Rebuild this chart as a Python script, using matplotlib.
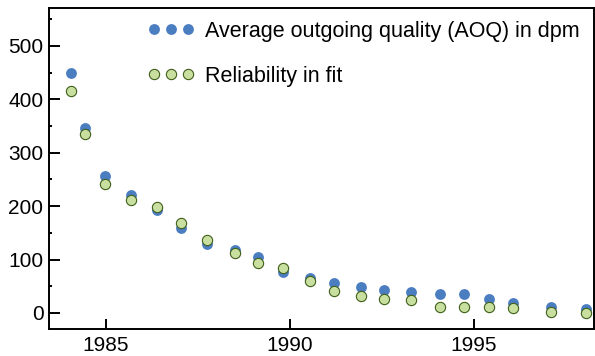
import numpy as np
import matplotlib
matplotlib.use("Agg")
import matplotlib.pyplot as plt
from matplotlib.ticker import MultipleLocator

plt.rcParams['font.family'] = ['Liberation Sans', 'DejaVu Sans']

years = [1984.05, 1984.43, 1984.98, 1985.69, 1986.38, 1987.04, 1987.75, 1988.5,
         1989.12, 1989.8, 1990.53, 1991.2, 1991.93, 1992.55, 1993.3, 1994.07,
         1994.72, 1995.41, 1996.06, 1997.1, 1998.03]
aoq = [449, 347, 256, 220, 192, 159, 130, 118, 104, 77, 65, 57, 49, 43, 39,
       35, 35, 26, 19, 11, 7]
fit = [416, 335, 242, 211, 198, 168, 136, 112, 94, 84, 59, 42, 32, 27, 24,
       12, 12, 11, 9, 2, 0]

BLUE = '#4b7dc1'
GREEN = '#c9dfa0'
GREEN_EDGE = '#3f5f1a'

fig = plt.figure(figsize=(5.95, 3.56), dpi=100)
ax = fig.add_axes([49/595, 27/356, 545/595, 321/356])

ax.plot(years, aoq, 'o', color=BLUE, markersize=7.8, markeredgewidth=0,
        label='Average outgoing quality (AOQ) in dpm')
ax.plot(years, fit, 'o', color=GREEN, markersize=7.4, markeredgecolor=GREEN_EDGE,
        markeredgewidth=0.8, label='Reliability in fit')

ax.set_xlim(1983.45, 1998.26)
ax.set_ylim(-30, 571)
ax.set_xticks([1985, 1990, 1995])
ax.yaxis.set_major_locator(MultipleLocator(100))
ax.yaxis.set_minor_locator(MultipleLocator(50))

for s in ax.spines.values():
    s.set_linewidth(1.4)
ax.tick_params(axis='both', which='both', direction='in', width=1.4, labelsize=15)
ax.tick_params(axis='x', length=7, pad=5)
ax.tick_params(axis='y', length=8, pad=4)

ax.legend(loc='upper left', bbox_to_anchor=(147.5/595, (356-21)/356),
          bbox_transform=fig.transFigure, frameon=False, numpoints=3,
          fontsize=15.5, handlelength=2.18, handletextpad=0.49, labelspacing=1.1,
          borderpad=0, borderaxespad=0)

fig.savefig('out.png', dpi=100)
